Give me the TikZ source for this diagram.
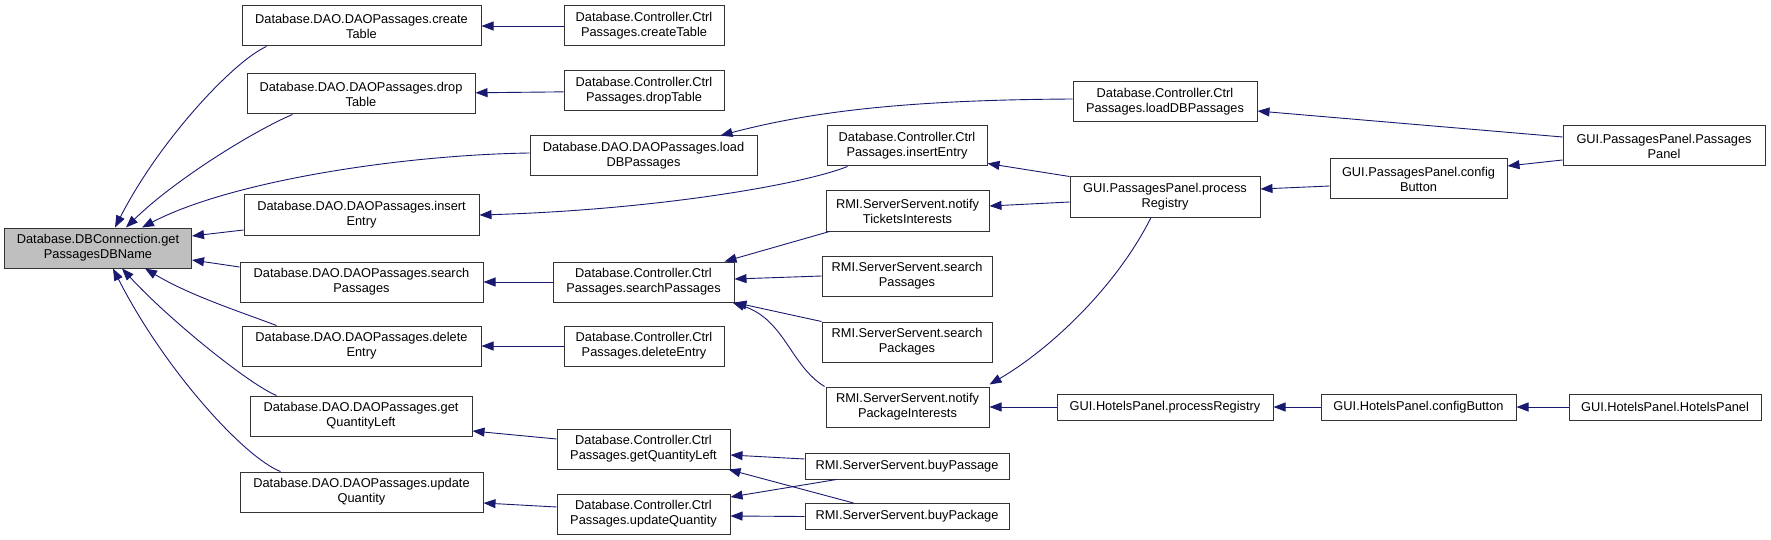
\documentclass[tikz,border=0pt]{standalone}
\usepackage{fontspec}
\newfontfamily\doxfont{Liberation Sans}
\usetikzlibrary{arrows.meta}
\definecolor{callblue}{RGB}{25,25,112}
\definecolor{rootgray}{RGB}{191,191,191}
\newcommand{\dxfont}{\doxfont\fontsize{12.8}{15}\selectfont}
\tikzset{
  >={Triangle[length=12pt,width=9pt]},
  fn/.style={draw=black!80,line width=1pt,fill=#1,minimum height=40pt,inner sep=1pt,
    align=center,font=\dxfont},
  fn/.default=white,
  fnline/.style={fn,minimum height=26pt},
  call/.style={->,draw=callblue,fill=none,line width=0.9pt},
}
\begin{document}
\begin{tikzpicture}[x=1pt,y=-1pt]
  \useasboundingbox (0,0) rectangle (1771,540);
  % callee
  \node[fn=rootgray,minimum width=187pt] (root) at (98,248) {Database.DBConnection.get\\PassagesDBName};
  % DAO level
  \node[fn,minimum width=239pt] (daoCreate) at (361.5,26) {Database.DAO.DAOPassages.create\\Table};
  \node[fn,minimum width=228pt] (daoDrop) at (361,94) {Database.DAO.DAOPassages.drop\\Table};
  \node[fn,minimum width=227pt] (daoLoad) at (643.5,156) {Database.DAO.DAOPassages.load\\DBPassages};
  \node[fn,minimum width=235pt] (daoInsert) at (361.5,215) {Database.DAO.DAOPassages.insert\\Entry};
  \node[fn,minimum width=243pt] (daoSearch) at (361.5,282) {Database.DAO.DAOPassages.search\\Passages};
  \node[fn,minimum width=239pt] (daoDelete) at (361.5,346) {Database.DAO.DAOPassages.delete\\Entry};
  \node[fn,minimum width=222pt] (daoGetQty) at (361,416) {Database.DAO.DAOPassages.get\\QuantityLeft};
  \node[fn,minimum width=243pt] (daoUpdate) at (361.5,492) {Database.DAO.DAOPassages.update\\Quantity};
  % controller level
  \node[fn,minimum width=160pt] (ctrlCreate) at (644,26) {Database.Controller.Ctrl\\Passages.createTable};
  \node[fn,minimum width=160pt] (ctrlDrop) at (644,91) {Database.Controller.Ctrl\\Passages.dropTable};
  \node[fn,minimum width=184pt] (ctrlLoad) at (1165,102) {Database.Controller.Ctrl\\Passages.loadDBPassages};
  \node[fn,minimum width=160pt] (ctrlInsert) at (907,146) {Database.Controller.Ctrl\\Passages.insertEntry};
  \node[fn,minimum width=181pt] (ctrlSearch) at (643.5,282) {Database.Controller.Ctrl\\Passages.searchPassages};
  \node[fn,minimum width=160pt] (ctrlDelete) at (644,346) {Database.Controller.Ctrl\\Passages.deleteEntry};
  \node[fn,minimum width=173pt] (ctrlGetQty) at (643.5,449) {Database.Controller.Ctrl\\Passages.getQuantityLeft};
  \node[fn,minimum width=173pt] (ctrlUpdate) at (643.5,514) {Database.Controller.Ctrl\\Passages.updateQuantity};
  % RMI level
  \node[fn,minimum width=163pt] (rmiTickets) at (907.5,211) {RMI.ServerServent.notify\\TicketsInterests};
  \node[fn,minimum width=170pt] (rmiSearchPass) at (907,276) {RMI.ServerServent.search\\Passages};
  \node[fn,minimum width=170pt] (rmiSearchPack) at (907,342) {RMI.ServerServent.search\\Packages};
  \node[fn,minimum width=163pt] (rmiPackInt) at (907.5,407) {RMI.ServerServent.notify\\PackageInterests};
  \node[fnline,minimum width=204pt] (rmiBuyPassage) at (907,466) {RMI.ServerServent.buyPassage};
  \node[fnline,minimum width=204pt] (rmiBuyPackage) at (907,516.5) {RMI.ServerServent.buyPackage};
  % GUI level
  \node[fn,minimum width=190pt] (guiPProc) at (1165,197) {GUI.PassagesPanel.process\\Registry};
  \node[fn,minimum width=177pt] (guiPConfig) at (1418.5,179) {GUI.PassagesPanel.config\\Button};
  \node[fn,minimum width=202pt] (guiPPanel) at (1664,146) {GUI.PassagesPanel.Passages\\Panel};
  \node[fnline,minimum width=216pt] (guiHProc) at (1165,407) {GUI.HotelsPanel.processRegistry};
  \node[fnline,minimum width=195pt] (guiHConfig) at (1418.5,407) {GUI.HotelsPanel.configButton};
  \node[fnline,minimum width=192pt] (guiHPanel) at (1665,407) {GUI.HotelsPanel.HotelsPanel};

  % calls into the root
  \draw[call] ([xshift=25pt]daoCreate.south west) .. controls +(-32,14) and +(45,-88) .. ([xshift=17pt]root.north);
  \draw[call] ([xshift=46pt]daoDrop.south west) .. controls +(-38,16) and +(49,-48) .. ([xshift=28pt]root.north);
  \draw[call] ([yshift=3pt]daoLoad.west) .. controls +(-130,2) and +(88,-46) .. ([xshift=44pt]root.north);
  \draw[call] ([yshift=-15pt]daoInsert.west) -- ([yshift=12pt]root.east);
  \draw[call] ([yshift=15pt]daoSearch.west) -- ([yshift=-12pt]root.east);
  \draw[call] ([xshift=35pt]daoDelete.north west) .. controls +(-37,-14) and +(45,27) .. ([xshift=47pt]root.south);
  \draw[call] ([xshift=27pt]daoGetQty.north west) .. controls +(-27,-11) and +(48,52) .. ([xshift=24pt]root.south);
  \draw[call] ([xshift=41pt]daoUpdate.north west) .. controls +(-36,-14) and +(52,102) .. ([xshift=15pt]root.south);
  % controller -> DAO
  \draw[call] (ctrlCreate) -- (daoCreate);
  \draw[call] (ctrlDrop) -- (daoDrop);
  \draw[call] ([yshift=3pt]ctrlLoad.west) .. controls +(-173,1) and +(88,-23) .. ([xshift=-37pt]daoLoad.north east);
  \draw[call] ([xshift=21pt]ctrlInsert.south west) .. controls +(-48,19) and +(171,-5) .. (daoInsert.east);
  \draw[call] (ctrlSearch) -- (daoSearch);
  \draw[call] (ctrlDelete) -- (daoDelete);
  \draw[call] ([yshift=10pt]ctrlGetQty.west) -- ([yshift=-15pt]daoGetQty.east);
  \draw[call] ([yshift=7pt]ctrlUpdate.west) -- ([yshift=-11pt]daoUpdate.east);
  % RMI -> controller
  \draw[call] ([xshift=4pt]rmiTickets.south west) -- ([xshift=-10pt]ctrlSearch.north east);
  \draw[call] (rmiSearchPass.west) -- ([yshift=3pt]ctrlSearch.east);
  \draw[call] (rmiSearchPack.north west) -- (ctrlSearch.south east);
  \draw[call] ([xshift=-1pt]rmiPackInt.north west) .. controls (790,365) and (785,320) .. ([xshift=-2pt]ctrlSearch.south east);
  \draw[call] ([yshift=7pt]rmiBuyPassage.west) -- ([yshift=-6pt]ctrlGetQty.east);
  \draw[call] ([xshift=32pt]rmiBuyPassage.south west) -- ([yshift=17pt]ctrlUpdate.east);
  \draw[call] ([xshift=49pt]rmiBuyPackage.north west) -- ([xshift=-2pt]ctrlGetQty.south east);
  \draw[call] (rmiBuyPackage.west) -- ([yshift=-2pt]ctrlUpdate.east);
  % GUI
  \draw[call] (guiPProc.north west) -- ([yshift=3pt]ctrlInsert.south east);
  \draw[call] ([yshift=-5pt]guiPProc.west) -- ([yshift=5pt]rmiTickets.east);
  \draw[call] ([xshift=-14pt]guiPProc.south) .. controls +(-35,70) and +(60,-35) .. ([yshift=2pt]rmiPackInt.north east);
  \draw[call] ([yshift=9pt]guiPPanel.west) -- ([yshift=-9pt]ctrlLoad.east);
  \draw[call] ([yshift=-14pt]guiPPanel.west) -- ([yshift=13pt]guiPConfig.east);
  \draw[call] ([yshift=-7pt]guiPConfig.west) -- ([yshift=8pt]guiPProc.east);
  \draw[call] (guiHProc) -- (rmiPackInt);
  \draw[call] (guiHConfig) -- (guiHProc);
  \draw[call] (guiHPanel) -- (guiHConfig);
\end{tikzpicture}
\end{document}
